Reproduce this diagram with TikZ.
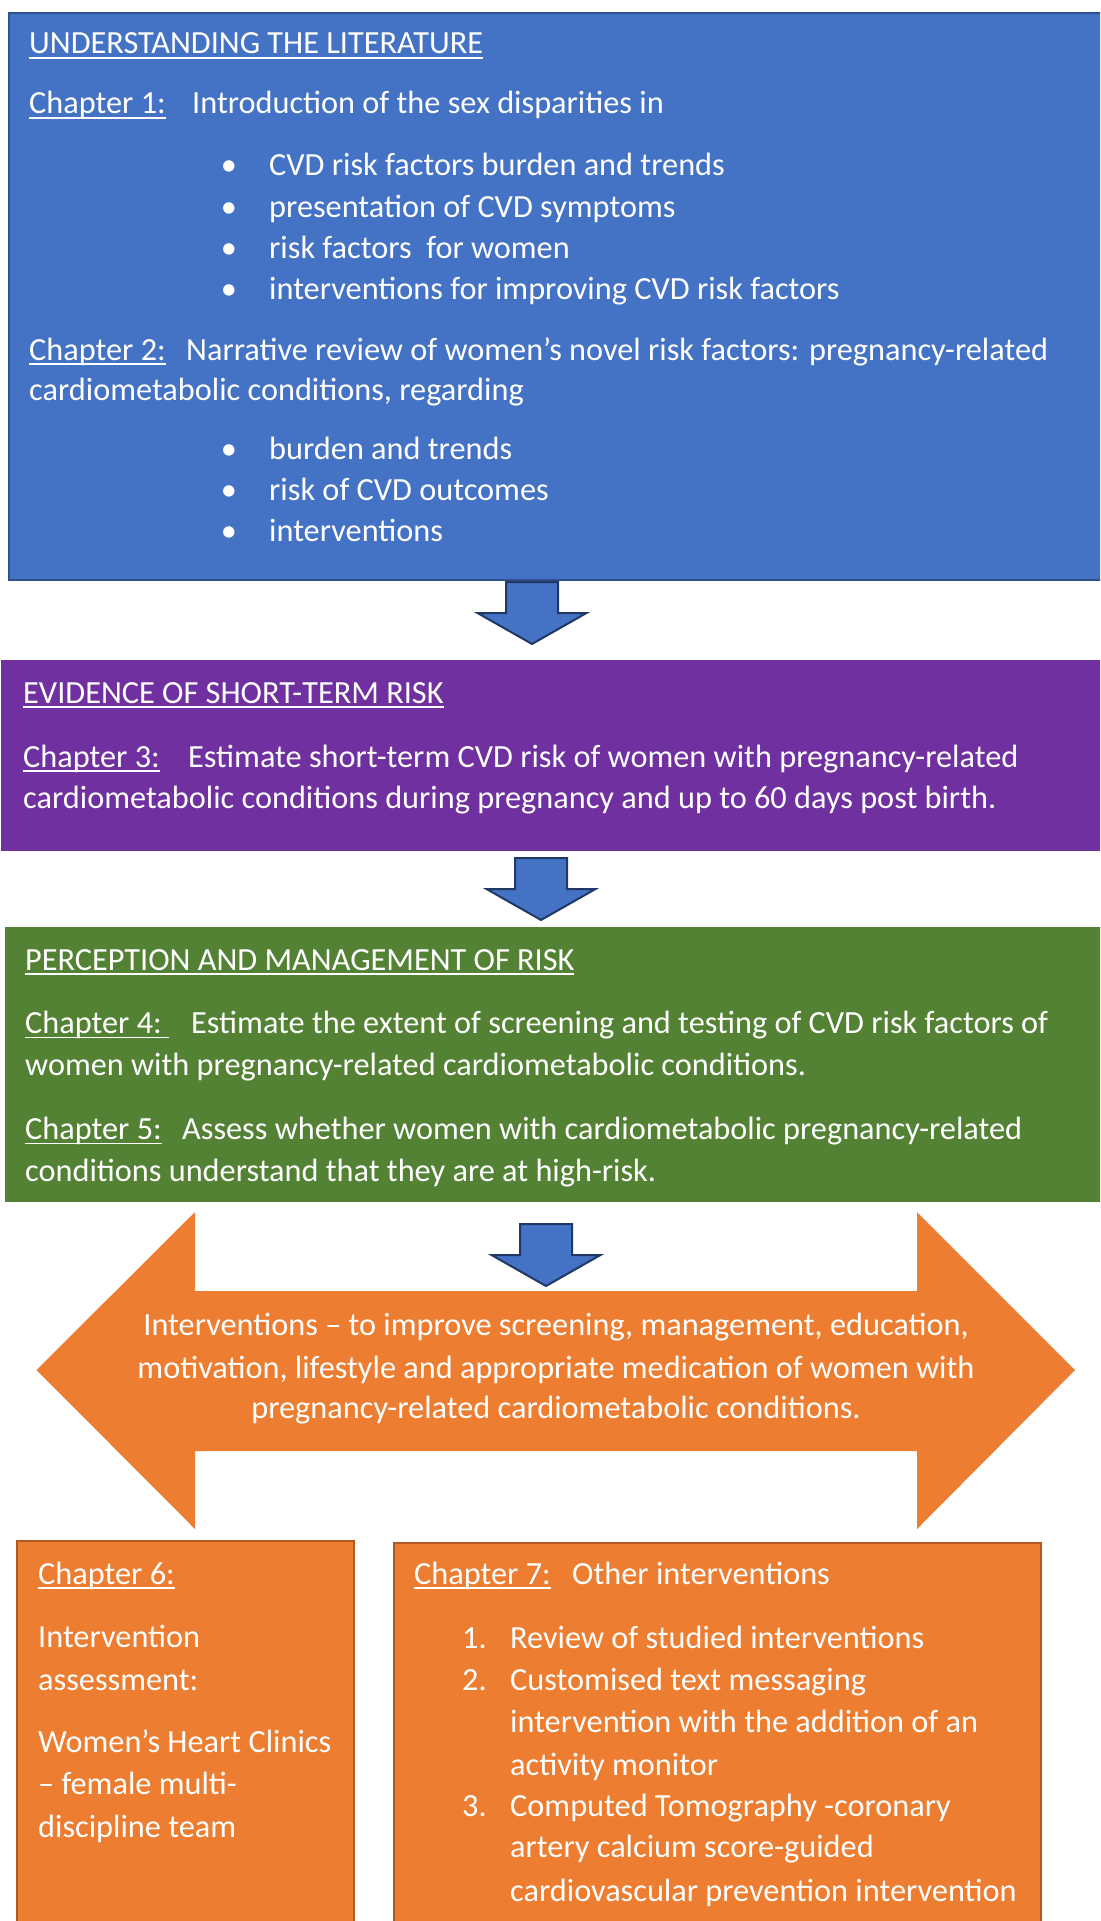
\documentclass[tikz,border=0pt]{standalone}
\usepackage{fontspec}
\setmainfont{Carlito}
\usetikzlibrary{positioning}

\definecolor{litblue}{HTML}{4472C4}
\definecolor{litedge}{HTML}{2F528F}
\definecolor{arrowedge}{HTML}{1F3864}
\definecolor{riskpurple}{HTML}{7030A0}
\definecolor{mgmtgreen}{HTML}{548235}
\definecolor{intorange}{HTML}{ED7D31}
\definecolor{intedge}{HTML}{AE5A21}

% underline sitting just under the baseline, as in the word processor
\newcommand\ulined[1]{\setbox0\hbox{#1}\rlap{\rule[-4.6pt]{\wd0}{1.3pt}}\box0}

\tikzset{
  txt/.style={text=white, inner sep=0pt, anchor=base west,
    font=\fontsize{32.3}{42}\selectfont},
  ctxt/.style={txt, anchor=base},
  dot/.style={txt, anchor=base},
  panel/.style={inner sep=0pt, anchor=north west, line width=2pt},
  blockarrow/.style={fill=litblue, draw=arrowedge, line width=2pt, line join=miter},
  blockdown/.pic={
    \draw [blockarrow] (-26,-62) -- (26,-62) -- (26,-31) -- (54.5,-31)
      -- (0,0) -- (-54.5,-31) -- (-26,-31) -- cycle;
  },
}

\begin{document}
\begin{tikzpicture}[x=1pt,y=-1pt]
    \useasboundingbox (0,0) rectangle (1100,1921);
    \clip (0,0) rectangle (1100,1921);

    % Panels:
    \node [panel, fill=litblue, draw=litedge, minimum width=1100pt, minimum height=567pt]
        (litbox) at (8,12) {};
    \node [panel, fill=riskpurple, minimum width=1102pt, minimum height=191pt]
        (riskbox) at (0,659) {};
    \node [panel, fill=mgmtgreen, minimum width=1100pt, minimum height=274.5pt]
        (mgmtbox) at (3.5,926) {};
    \draw [fill=intorange, draw=none]
        (36.5,1370) -- (195,1212) -- (195,1291) -- (917,1291) -- (917,1212)
        -- (1075,1370) -- (917,1529) -- (917,1451) -- (195,1451) -- (195,1529) -- cycle;
    \node [panel, fill=intorange, draw=intedge, minimum width=337pt, minimum height=400pt]
        (ch6box) at (15.5,1540) {};
    \node [panel, fill=intorange, draw=intedge, minimum width=647pt, minimum height=400pt]
        (ch7box) at (393,1542) {};

    % Block arrows between the panels (placed at their tips):
    \pic at (532,644) {blockdown};
    \pic at (541,920) {blockdown};
    \pic at (546,1286) {blockdown};

    % UNDERSTANDING THE LITERATURE
    \node [txt] (littitle) at (29,54) {\ulined{UNDERSTANDING THE LITERATURE}};
    \node [txt] (ch1) at (29,114) {\ulined{Chapter 1:}};
    \node [txt] (ch1text) at (192,114) {Introduction of the sex disparities in};
    \foreach \entry/\yy [count=\i] in {CVD risk factors burden and trends/176,
        presentation of CVD symptoms/217, risk factors\ \ for women/258,
        interventions for improving CVD risk factors/299}{%
        \node [dot] (dota\i) at (229,\yy) {•};
        \node [txt] (itema\i) at (269,\yy) {\entry};
    }
    \node [txt] (ch2) at (29,360) {\ulined{Chapter 2:}};
    \node [txt] (ch2text) at (186,360) {Narrative review of women’s novel risk factors: pregnancy-related};
    \node [txt] (ch2more) at (29,400) {cardiometabolic conditions, regarding};
    \foreach \entry/\yy [count=\i] in {burden and trends/459,
        risk of CVD outcomes/500, interventions/541}{%
        \node [dot] (dotb\i) at (229,\yy) {•};
        \node [txt] (itemb\i) at (269,\yy) {\entry};
    }

    % EVIDENCE OF SHORT-TERM RISK
    \node [txt] (risktitle) at (23,703) {\ulined{EVIDENCE OF SHORT-TERM RISK}};
    \node [txt] (ch3) at (23,767) {\ulined{Chapter 3:}};
    \node [txt] (ch3text) at (188,767) {Estimate short-term CVD risk of women with pregnancy-related};
    \node [txt] (ch3more) at (23,808) {cardiometabolic conditions during pregnancy and up to 60 days post birth.};

    % PERCEPTION AND MANAGEMENT OF RISK
    \node [txt] (mgmttitle) at (25,970) {\ulined{PERCEPTION AND MANAGEMENT OF RISK}};
    \node [txt] (ch4) at (25,1033.5) {\ulined{Chapter 4:\ }};
    \node [txt] (ch4text) at (191,1033.5) {Estimate the extent of screening and testing of CVD risk factors of};
    \node [txt] (ch4more) at (25,1075.5) {women with pregnancy-related cardiometabolic conditions.};
    \node [txt] (ch5) at (25,1139.5) {\ulined{Chapter 5:}};
    \node [txt] (ch5text) at (182,1139.5) {Assess whether women with cardiometabolic pregnancy-related};
    \node [txt] (ch5more) at (25,1181) {conditions understand that they are at high-risk.};

    % Interventions
    \node [ctxt] (inta) at (556,1335.5) {Interventions – to improve screening, management, education,};
    \node [ctxt] (intb) at (556,1378) {motivation, lifestyle and appropriate medication of women with};
    \node [ctxt] (intc) at (556,1418.5) {pregnancy-related cardiometabolic conditions.};

    % Chapter 6
    \node [txt] (ch6) at (38,1584) {\ulined{Chapter 6:}};
    \foreach \entry/\yy [count=\i] in {Intervention/1647, assessment:/1690,
        Women’s Heart Clinics/1752, – female multi-/1794, discipline team/1837}{%
        \node [txt] (ch6line\i) at (38,\yy) {\entry};
    }

    % Chapter 7
    \node [txt] (ch7) at (414,1584) {\ulined{Chapter 7:}};
    \node [txt] (ch7text) at (572,1584) {Other interventions};
    \node [txt] (numa) at (462,1648) {1.};
    \node [txt] (numb) at (462,1690.5) {2.};
    \node [txt] (numc) at (462,1816) {3.};
    \foreach \entry/\yy [count=\i] in {Review of studied interventions/1648,
        Customised text messaging/1690.5,
        intervention with the addition of an/1732,
        activity monitor/1775,
        Computed Tomography -coronary/1816,
        artery calcium score-guided/1857.5,
        cardiovascular prevention intervention/1901}{%
        \node [txt] (ch7line\i) at (510,\yy) {\entry};
    }
\end{tikzpicture}
\end{document}
